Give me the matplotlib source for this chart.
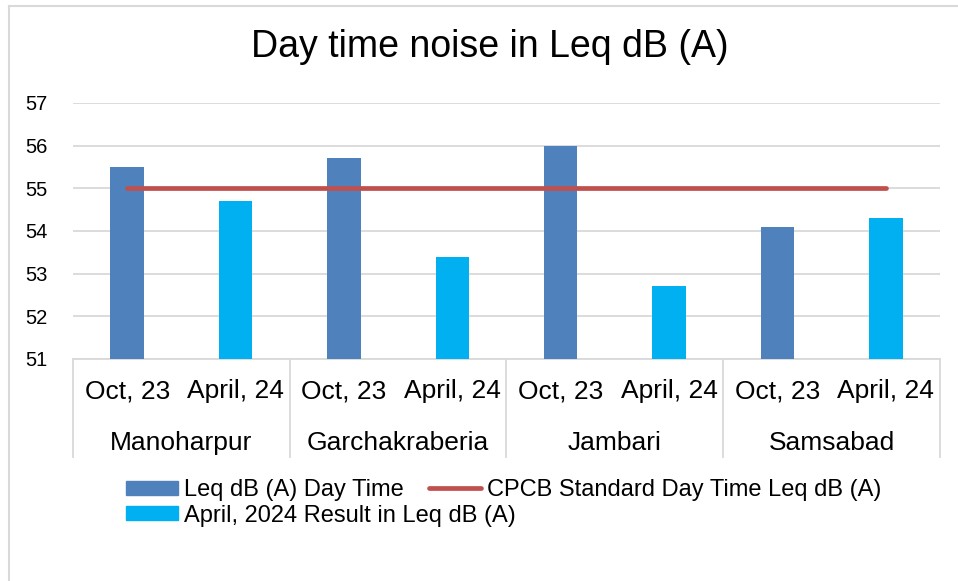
import matplotlib
matplotlib.use("Agg")
import matplotlib.pyplot as plt
from matplotlib.lines import Line2D
from matplotlib.patches import Patch

plt.rcParams['font.family'] = ['Liberation Sans', 'DejaVu Sans']

# Data
sites = ['Manoharpur', 'Garchakraberia', 'Jambari', 'Samsabad']
periods = ['Oct, 23', 'April, 24']
values = [55.5, 54.7, 55.7, 53.4, 56.0, 52.7, 54.1, 54.3]
cpcb_standard = [55, 55, 55, 55, 55, 55, 55, 55]

blue = '#4F81BD'
cyan = '#00B0F0'
red = '#C0504D'
grid_col = '#D9D9D9'

fig = plt.figure(figsize=(9.58, 5.81), dpi=100)
ax = fig.add_axes([73 / 958, 1 - 359 / 581, (940 - 73) / 958, (359 - 103) / 581])

x = list(range(len(values)))
colors = [blue if i % 2 == 0 else cyan for i in x]
ax.bar(x, [v - 51 for v in values], bottom=51, width=0.31, color=colors, zorder=3)
ax.plot(x, cpcb_standard, color=red, lw=3.4, solid_capstyle='round', zorder=4)

ax.set_xlim(-0.5, len(values) - 0.5)
ax.set_ylim(51, 57)
ax.set_yticks(range(51, 58))
ax.yaxis.grid(True, color=grid_col, lw=1.3)
ax.set_axisbelow(True)
for s in ['top', 'right', 'left']:
    ax.spines[s].set_visible(False)
ax.spines['bottom'].set_color(grid_col)
ax.spines['bottom'].set_linewidth(1.3)
ax.tick_params(axis='y', length=0, labelsize=14.5, pad=18)
ax.set_xticks([])

# multi-level category labels
trans = ax.get_xaxis_transform()
for i in x:
    ax.text(i, -32 / 256, periods[i % 2], transform=trans, ha='center', va='center', fontsize=19)
for g, name in enumerate(sites):
    ax.text(2 * g + 0.5, -84 / 256, name, transform=trans, ha='center', va='center', fontsize=19)
for b in range(len(sites) + 1):
    ax.plot([2 * b - 0.5, 2 * b - 0.5], [0, -98 / 256], transform=trans, color=grid_col,
            lw=1.3, clip_on=False)

# title
fig.text(0.511, 1 - 47 / 581, 'Day time noise in Leq dB (A)', ha='center', va='center', fontsize=27)

# legend (Excel style flow layout: two separate blocks)
leg_kw = dict(loc='upper left', frameon=False, fontsize=17, handlelength=2.2, handleheight=0.55,
              handletextpad=0.25, labelspacing=0.15, borderpad=0, borderaxespad=0)
bar_handles = [Patch(color=blue, label='Leq dB (A) Day Time'),
               Patch(color=cyan, label='April, 2024 Result in Leq dB (A)')]
line_handles = [Line2D([], [], color=red, lw=3.4, solid_capstyle='round',
                       label='CPCB Standard Day Time Leq dB (A)')]
fig.legend(handles=bar_handles, bbox_to_anchor=(126 / 958, 1 - 479 / 581), **leg_kw)
fig.legend(handles=line_handles, bbox_to_anchor=(429 / 958, 1 - 479 / 581), **leg_kw)

# chart area border (left and top visible)
fig.add_artist(Line2D([9 / 958, 9 / 958], [0, 1 - 6 / 581], color=grid_col, lw=1.5))
fig.add_artist(Line2D([9 / 958, 1], [1 - 6 / 581, 1 - 6 / 581], color=grid_col, lw=1.5))

fig.savefig('out.png', dpi=100)
